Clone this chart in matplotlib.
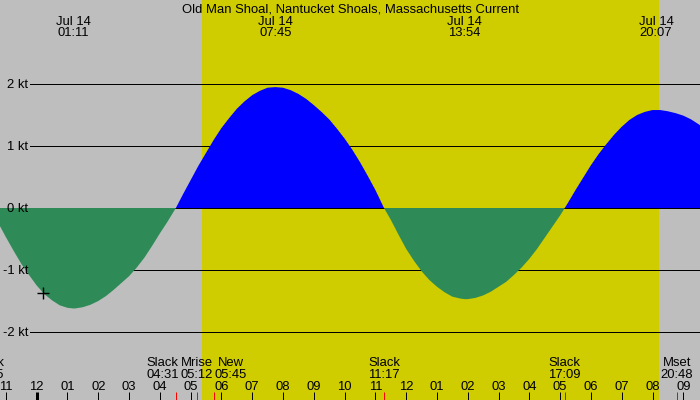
import matplotlib
matplotlib.use('Agg')
import matplotlib.pyplot as plt
import matplotlib.transforms as mtrans

plt.rcParams['font.family'] = ['Liberation Sans', 'DejaVu Sans']

title = 'Old Man Shoal, Nantucket Shoals, Massachusetts Current'

# current speed (kt), time in hours from Jul 14 00:00
hours = [-1.5, -1.25, -1.0, -0.75, -0.5, -0.25, 0.0, 0.25, 0.5, 0.75, 1.0, 1.18,
         1.25, 1.5, 1.75, 2.0, 2.25, 2.5, 2.75, 3.0, 3.25, 3.5, 3.75, 4.0, 4.25, 4.52,
         4.75, 5.0, 5.25, 5.5, 5.75, 6.0, 6.25, 6.5, 6.75, 7.0, 7.25, 7.5, 7.75,
         8.0, 8.25, 8.5, 8.75, 9.0, 9.25, 9.5, 9.75, 10.0, 10.25, 10.5, 10.75, 11.0,
         11.28, 11.5, 11.75, 12.0, 12.25, 12.5, 12.75, 13.0, 13.25, 13.5, 13.75, 13.9,
         14.0, 14.25, 14.5, 14.75, 15.0, 15.25, 15.5, 15.75, 16.0, 16.25, 16.5, 16.75,
         17.0, 17.15, 17.25, 17.5, 17.75, 18.0, 18.25, 18.5, 18.75, 19.0, 19.25, 19.5,
         19.75, 20.0, 20.12, 20.25, 20.5, 20.75, 21.0, 21.25, 21.5, 21.75, 22.0]
speed = [0.0, -0.24, -0.47, -0.69, -0.90, -1.08, -1.25, -1.39, -1.49, -1.57, -1.61, -1.62,
         -1.62, -1.60, -1.56, -1.50, -1.42, -1.32, -1.21, -1.10, -0.96, -0.80, -0.61, -0.41, -0.22, 0.0,
         0.22, 0.45, 0.68, 0.89, 1.10, 1.29, 1.45, 1.60, 1.72, 1.82, 1.89, 1.94, 1.95,
         1.94, 1.90, 1.84, 1.76, 1.66, 1.55, 1.43, 1.28, 1.12, 0.94, 0.74, 0.52, 0.29,
         0.0, -0.19, -0.43, -0.66, -0.85, -1.02, -1.16, -1.27, -1.36, -1.43, -1.46, -1.47,
         -1.47, -1.45, -1.41, -1.35, -1.27, -1.19, -1.08, -0.96, -0.82, -0.66, -0.48, -0.30,
         -0.12, 0.0, 0.08, 0.29, 0.49, 0.69, 0.87, 1.03, 1.18, 1.31, 1.42, 1.50,
         1.55, 1.58, 1.58, 1.58, 1.56, 1.53, 1.49, 1.43, 1.35, 1.26, 1.16]

# max flood / ebb labels along the top
peak_times = ['01:11', '07:45', '13:54', '20:07']
peak_date = 'Jul 14'

# events along the bottom (day offset relative to Jul 14)
event_names = ['Slack', 'Slack', 'Mrise', 'New', 'Slack', 'Slack', 'Mset']
event_times = ['22:25', '04:31', '05:12', '05:45', '11:17', '17:09', '20:48']
event_days = [-1, 0, 0, 0, 0, 0, 0]
label_shift = [0, -0.42, 0, 0.55, 0, 0, 0]  # hours, labels pushed apart

sunrise, sunset = '05:22', '20:13'
now_time, now_speed = 0.215, -1.37
kt_levels = [2, 1, 0, -1, -2]


def hrs(s, day=0):
    h, m = s.split(':')
    return day * 24 + int(h) + int(m) / 60


W, H = 700, 400
px_hr, mid_px = 30.79, 36.7
px_kt, zero_px = 62, 208
fs = 9.4
px = 0.72  # one pixel in points

fig = plt.figure(figsize=(7, 4), dpi=100)
fig.patch.set_facecolor('#bebebe')
ax = fig.add_axes([0, 0, 1, 1])
ax.set_xlim(-mid_px / px_hr, (W - mid_px) / px_hr)
ax.set_ylim(-(H - zero_px) / px_kt, zero_px / px_kt)
ax.axis('off')

# daylight
ax.axvspan(hrs(sunrise), hrs(sunset), color='#cfcc00', lw=0, zorder=0.5)

ytr = mtrans.blended_transform_factory(fig.transFigure, ax.transData)
for lv in kt_levels:
    ax.axhline(lv, xmin=30 / W, xmax=1, color='black', lw=px, zorder=1)
    ax.text(28 / W, lv - 4.3 / px_kt, '%d kt' % lv, ha='right', va='baseline',
            fontsize=fs, transform=ytr, zorder=5)

ax.fill_between(hours, speed, 0, where=[s >= 0 for s in speed], color='#0000ff',
                lw=0, interpolate=True, zorder=2)
ax.fill_between(hours, speed, 0, where=[s <= 0 for s in speed], color='#2e8b57',
                lw=0, interpolate=True, zorder=2)

ax.plot([now_time], [now_speed], marker='+', ms=8, mew=1, color='black', zorder=4)

tr = mtrans.blended_transform_factory(ax.transData, fig.transFigure)


def fy(y):
    return 1 - y / H


fig.text(0.5, fy(12), title, ha='center', va='baseline', fontsize=fs)

for t in peak_times:
    x = hrs(t)
    ax.text(x, fy(25), peak_date, ha='center', va='baseline', fontsize=fs, transform=tr)
    ax.text(x, fy(36), t, ha='center', va='baseline', fontsize=fs, transform=tr)

# hour ticks and labels
for h in range(-1, 22):
    ax.vlines(h, fy(400), fy(392), color='black', lw=px * (3 if h % 24 == 0 else 1),
              transform=tr, zorder=5)
    ax.text(h, fy(390), '%02d' % ((h % 12) or 12), ha='center', va='baseline',
            fontsize=fs, transform=tr)

for name, t, d, sh in zip(event_names, event_times, event_days, label_shift):
    x = hrs(t, d)
    ax.vlines(x, fy(400), fy(392), color='red', lw=px, transform=tr, zorder=5)
    ax.text(x + sh, fy(366), name, ha='center', va='baseline', fontsize=fs, transform=tr)
    ax.text(x + sh, fy(378), t, ha='center', va='baseline', fontsize=fs, transform=tr)

fig.savefig('out.png', dpi=100, facecolor=fig.get_facecolor())
